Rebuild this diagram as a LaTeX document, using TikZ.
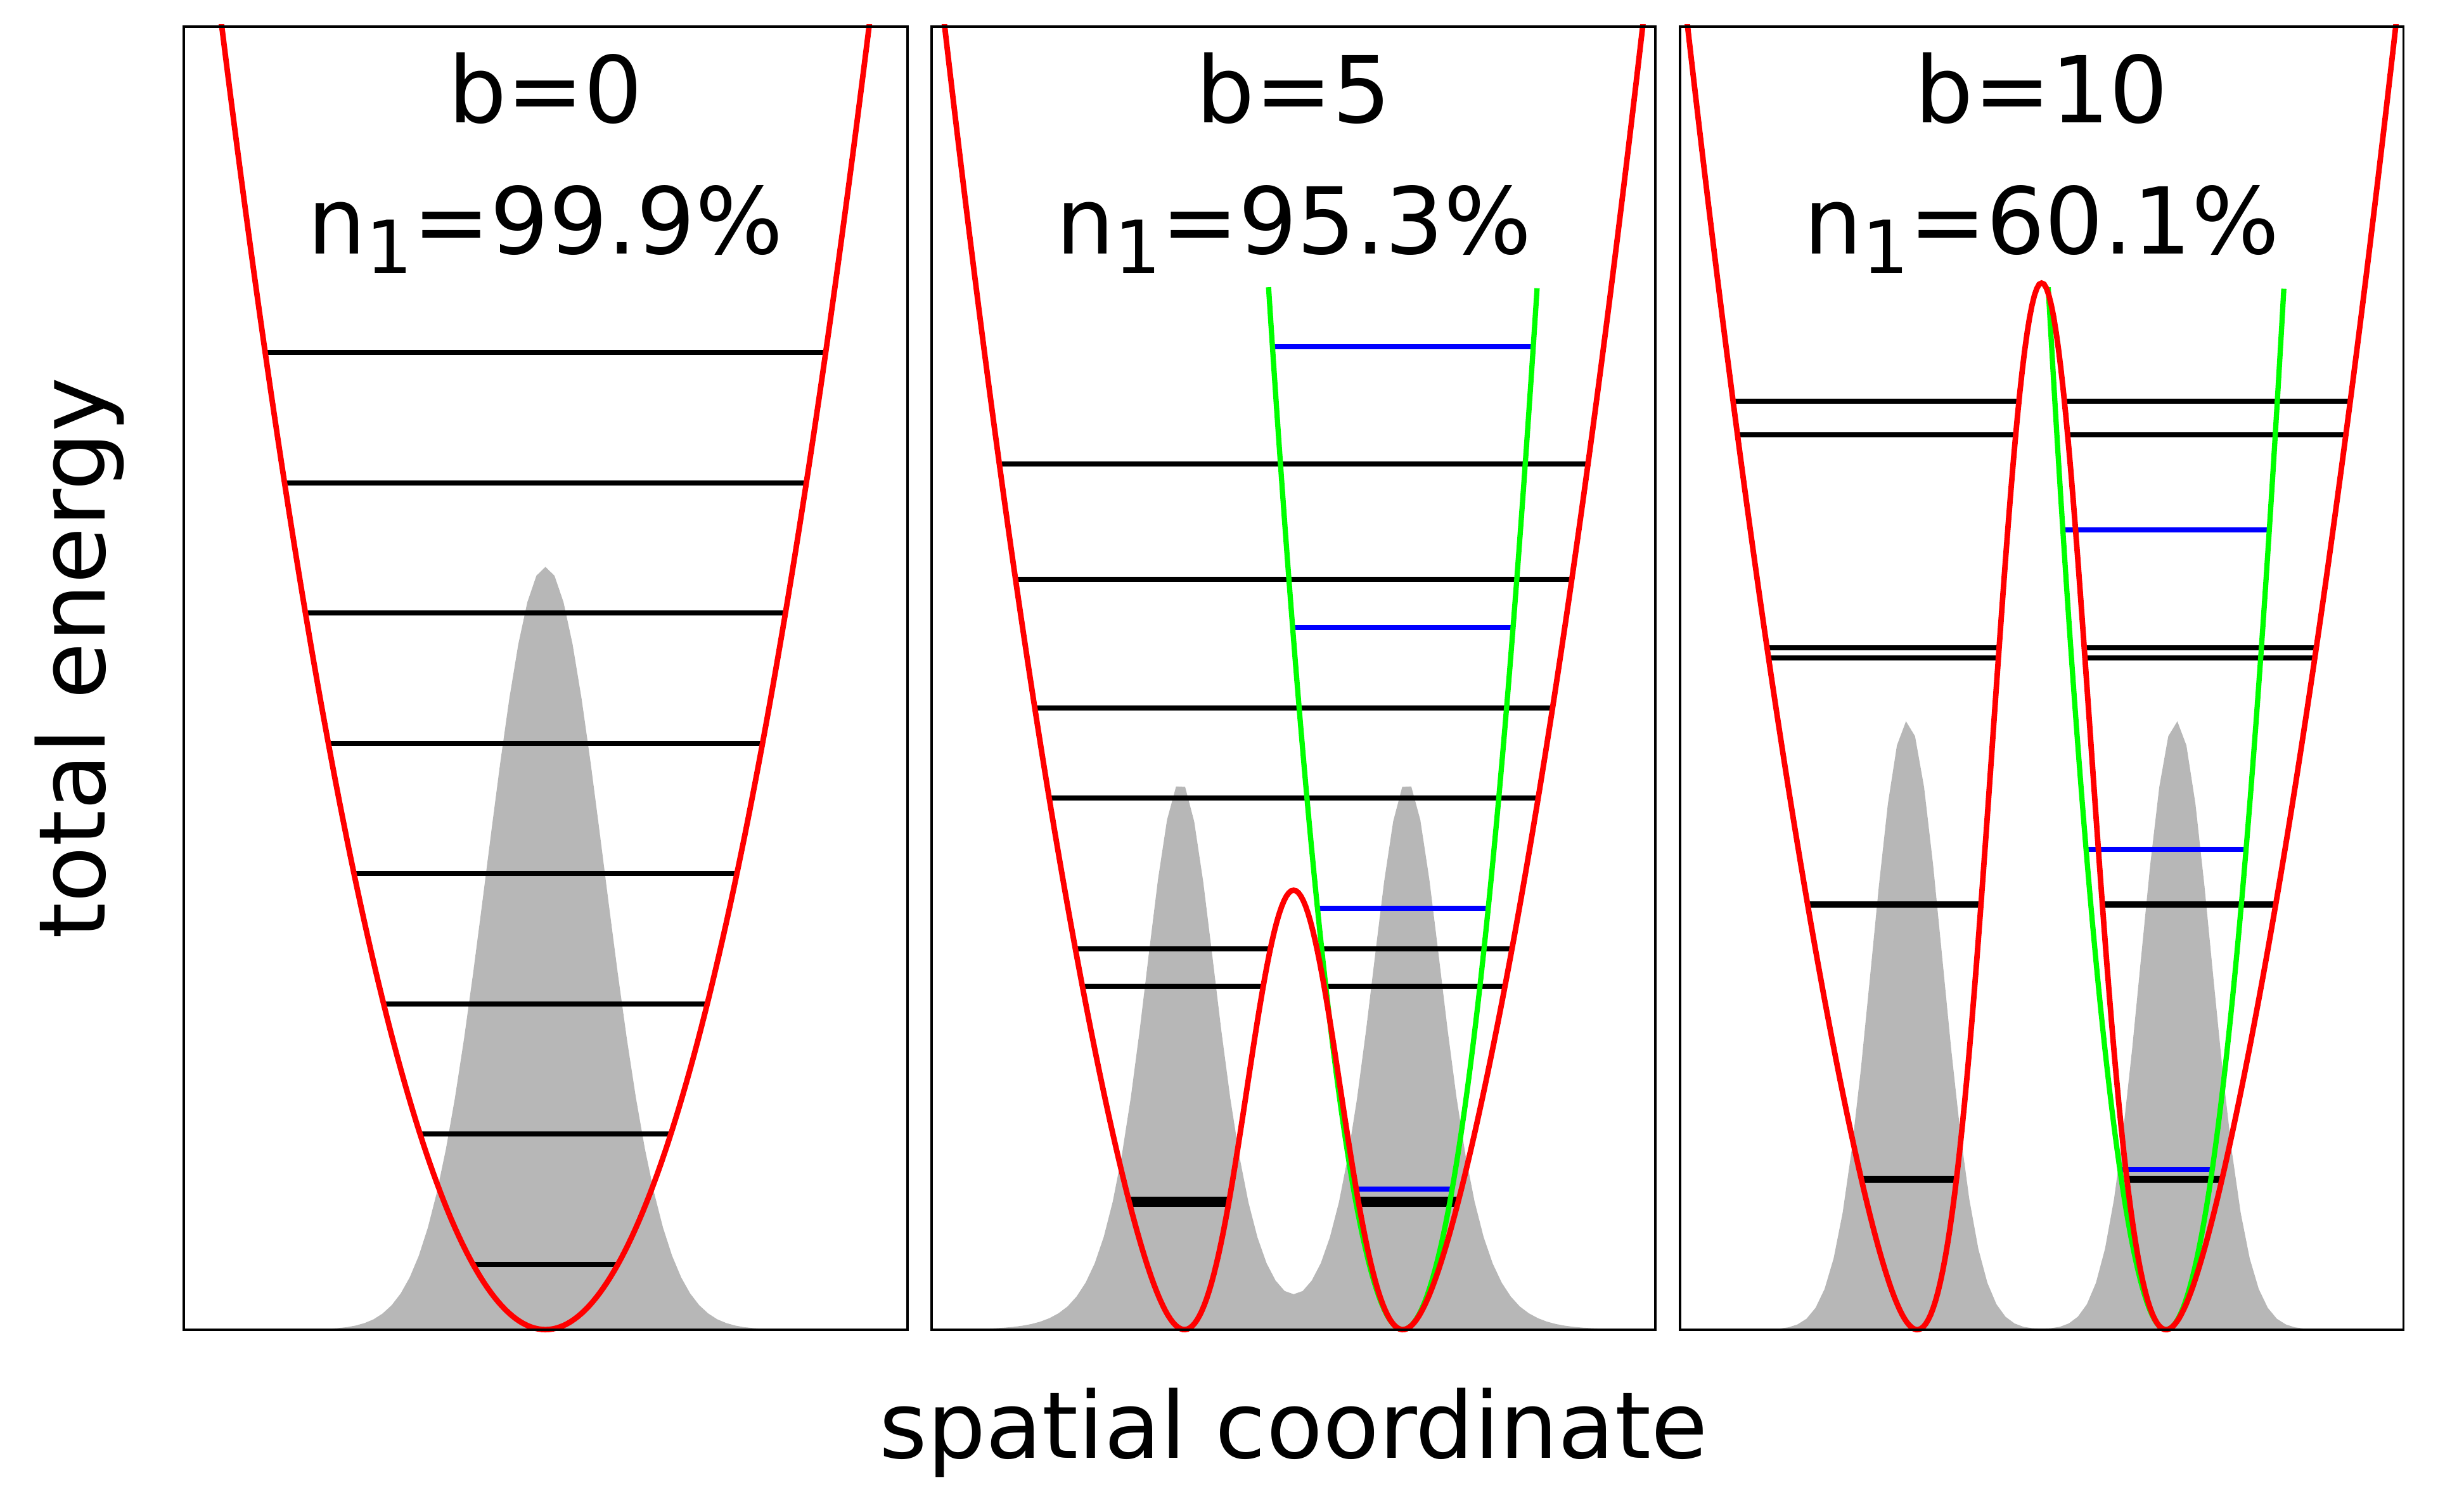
\documentclass[tikz,border=0pt]{standalone}
\usepackage{fontspec}
\setmainfont{DejaVu Sans}
\definecolor{pred}{RGB}{255,0,0}
\definecolor{pgreen}{RGB}{0,255,0}
\definecolor{pblue}{RGB}{0,0,255}
\definecolor{pgray}{RGB}{183,183,183}
\newcommand{\subone}{\raisebox{-3.6pt}{\fontsize{13.3}{14}\selectfont 1}}
\begin{document}
\begin{tikzpicture}[x=0.1mm,y=0.1mm,
  lvl/.style={line width=0.92pt, black},
  hlvl/.style={line width=0.92pt, pblue},
  pot/.style={line width=1.0pt, pred},
  harm/.style={line width=0.95pt, pgreen},
  dens/.style={fill=pgray},
  frm/.style={line width=0.45pt, black},
  lab/.style={font=\fontsize{16.7}{20}\selectfont, inner sep=0pt, anchor=base}]
\useasboundingbox (0,0) rectangle (1568,958);

% ---------------- panel 1: b=0 ----------------
\begin{scope}[shift={(34.71mm,11.2mm)},x=4.605mm,y=8.29mm]
  \begin{scope}
    \clip (-5,0) rectangle (5,10);
    \fill[dens] plot[domain=-5:5,samples=81] (\x,{5.854*exp(-((\x)*(\x))/1.3122)}) -- cycle;
  \end{scope}
  \begin{scope}
    \clip (-5,12) -- plot[domain=-5:5,samples=201] (\x,{0.5*(\x)*(\x)}) -- (5,12) -- cycle;
    \foreach \e in {0.5,1.5,2.5,3.5,4.5,5.5,6.5,7.5} \draw[lvl] (-5,\e) -- (5,\e);
  \end{scope}
  \begin{scope}
    \clip (-5.05,-0.03) rectangle (5.05,10.02);
    \draw[pot] plot[domain=-5:5,samples=201] (\x,{0.5*(\x)*(\x)});
  \end{scope}
  \draw[frm] (-5,0) rectangle (5,10);
  \node[lab] (b0) at (0,9.265) {b=0};
  \node[lab] (n0) at (0,8.259) {n\subone=99.9\%};
\end{scope}

% ---------------- panel 2: b=5 ----------------
\begin{scope}[shift={(82.325mm,11.2mm)},x=4.605mm,y=8.29mm]
  \begin{scope}
    \clip (-5,0) rectangle (5,10);
    \fill[dens] plot[domain=-5:5,samples=81]
      (\x,{16.8*exp(-2*abs(\x-1.565)/0.69)/(1+exp(-2*abs(\x-1.565)/0.69))^2
          +16.8*exp(-2*abs(\x+1.565)/0.69)/(1+exp(-2*abs(\x+1.565)/0.69))^2
          -0.08*exp(-((\x)*(\x))/0.3)}) -- cycle;
  \end{scope}
  \begin{scope}
    \clip (-5,12) -- plot[domain=-5:5,samples=201] (\x,{0.5*(\x)*(\x)+5*exp(-((\x)*(\x))/0.98)-1.6282}) -- (5,12) -- cycle;
    \foreach \e in {0.962,1.001,2.637,2.923,4.081,4.771,5.760,6.645} \draw[lvl] (-5,\e) -- (5,\e);
  \end{scope}
  \begin{scope}
    \clip plot[domain=-0.3471:3.3647,samples=101] (\x,{2.32275*(\x-1.5088)*(\x-1.5088)}) -- cycle;
    \foreach \e in {1.0777,3.2330,5.3883,7.5436} \draw[hlvl] (-1,\e) -- (4,\e);
  \end{scope}
  \draw[harm] plot[domain=-0.3471:3.3647,samples=101] (\x,{2.32275*(\x-1.5088)*(\x-1.5088)});
  \begin{scope}
    \clip (-5.05,-0.03) rectangle (5.05,10.02);
    \draw[pot] plot[domain=-5:5,samples=301] (\x,{0.5*(\x)*(\x)+5*exp(-((\x)*(\x))/0.98)-1.6282});
  \end{scope}
  \draw[frm] (-5,0) rectangle (5,10);
  \node[lab] (b5) at (0,9.265) {b=5};
  \node[lab] (n5) at (0,8.259) {n\subone=95.3\%};
\end{scope}

% ---------------- panel 3: b=10 ----------------
\begin{scope}[shift={(129.925mm,11.2mm)},x=4.605mm,y=8.29mm]
  \begin{scope}
    \clip (-5,0) rectangle (5,10);
    \fill[dens] plot[domain=-5:5,samples=81]
      (\x,{4.67*exp(-((\x-1.86)*(\x-1.86))/0.4802)+4.67*exp(-((\x+1.86)*(\x+1.86))/0.4802)}) -- cycle;
  \end{scope}
  \begin{scope}
    \clip (-5,12) -- plot[domain=-5:5,samples=201] (\x,{0.5*(\x)*(\x)+10*exp(-((\x)*(\x))/0.98)-1.9678}) -- (5,12) -- cycle;
    \foreach \e in {1.147,1.159,3.258,3.270,5.157,5.235,6.87,7.125} \draw[lvl] (-5,\e) -- (5,\e);
  \end{scope}
  \begin{scope}
    \clip plot[domain=0.0905:3.3479,samples=101] (\x,{3.0159*(\x-1.7192)*(\x-1.7192)}) -- cycle;
    \foreach \e in {1.228,3.684,6.140} \draw[hlvl] (-1,\e) -- (4,\e);
  \end{scope}
  \draw[harm] plot[domain=0.0905:3.3479,samples=101] (\x,{3.0159*(\x-1.7192)*(\x-1.7192)});
  \begin{scope}
    \clip (-5.05,-0.03) rectangle (5.05,10.02);
    \draw[pot] plot[domain=-5:5,samples=301] (\x,{0.5*(\x)*(\x)+10*exp(-((\x)*(\x))/0.98)-1.9678});
  \end{scope}
  \draw[frm] (-5,0) rectangle (5,10);
  \node[lab] (b10) at (0,9.265) {b=10};
  \node[lab] (n10) at (0,8.259) {n\subone=60.1\%};
\end{scope}

% ---------------- axis labels ----------------
\node[lab] (xlab) at (823,30.2) {spatial coordinate};
\node[lab,rotate=90] (ylab) at (66.8,539) {total energy};
\end{tikzpicture}
\end{document}
